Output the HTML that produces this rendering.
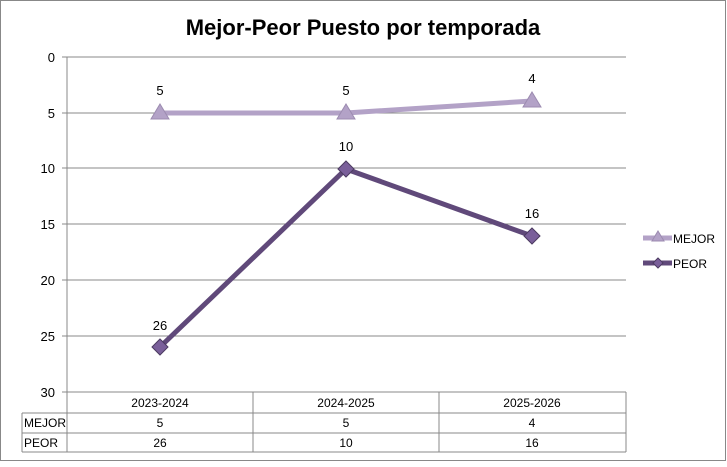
<!DOCTYPE html>
<html><head><meta charset="utf-8"><style>
body{margin:0;background:#fff}
svg text{font-family:"Liberation Sans",sans-serif}
</style></head><body>
<svg width="727" height="462" xmlns="http://www.w3.org/2000/svg">
<rect x="0.5" y="0.5" width="725" height="460" fill="#fff" stroke="#888"/>
<text x="363" y="35" text-anchor="middle" font-size="22" font-weight="bold" fill="#000">Mejor-Peor Puesto por temporada</text>
<g stroke="#888" stroke-width="1">
<line x1="67" y1="57" x2="67" y2="452"/>
<line x1="62" y1="57" x2="626" y2="57"/>
<line x1="62" y1="113" x2="626" y2="113"/>
<line x1="62" y1="168" x2="626" y2="168"/>
<line x1="62" y1="224" x2="626" y2="224"/>
<line x1="62" y1="280" x2="626" y2="280"/>
<line x1="62" y1="336" x2="626" y2="336"/>
<line x1="62" y1="392" x2="626" y2="392"/>
<line x1="22" y1="413" x2="626" y2="413"/>
<line x1="22" y1="433" x2="626" y2="433"/>
<line x1="22" y1="452" x2="626" y2="452"/>
<line x1="22" y1="413" x2="22" y2="452"/>
<line x1="253" y1="392" x2="253" y2="452"/>
<line x1="439" y1="392" x2="439" y2="452"/>
<line x1="626" y1="392" x2="626" y2="452"/>
</g>
<g font-size="13" fill="#000" text-anchor="end">
<text x="55" y="62">0</text><text x="55" y="118">5</text><text x="55" y="173">10</text>
<text x="55" y="229">15</text><text x="55" y="285">20</text><text x="55" y="341">25</text><text x="55" y="397">30</text>
</g>
<g font-size="12" fill="#000" text-anchor="middle">
<text x="160" y="407">2023-2024</text><text x="346" y="407">2024-2025</text><text x="532" y="407">2025-2026</text>
<text x="160" y="427">5</text><text x="346" y="427">5</text><text x="532" y="427">4</text>
<text x="160" y="447">26</text><text x="346" y="447">10</text><text x="532" y="447">16</text>
<text x="24" y="427" text-anchor="start">MEJOR</text><text x="24" y="447" text-anchor="start">PEOR</text>
</g>
<polyline points="160,113 346,113 532,101" fill="none" stroke="#B3A2C7" stroke-width="5"/>
<g fill="#B3A2C7" stroke="#9C8BB0">
<polygon points="160,104 169,119 151,119"/><polygon points="346,104 355,119 337,119"/><polygon points="532,92 541,107 523,107"/>
</g>
<polyline points="160,347 346,169 532,236" fill="none" stroke="#60497A" stroke-width="5"/>
<g fill="#7A5F9A" stroke="#4B3A60">
<polygon points="160,339 168,347 160,355 152,347"/><polygon points="346,161 354,169 346,177 338,169"/><polygon points="532,228 540,236 532,244 524,236"/>
</g>
<g font-size="13" fill="#000" text-anchor="middle">
<text x="160" y="95">5</text><text x="346" y="95">5</text><text x="532" y="83">4</text>
<text x="346" y="151">10</text><text x="532" y="218">16</text><text x="160" y="330">26</text>
</g>
<line x1="643" y1="238" x2="672" y2="238" stroke="#B3A2C7" stroke-width="5"/>
<polygon points="658,231 664,241 652,241" fill="#B3A2C7" stroke="#9C8BB0"/>
<text x="673" y="243" font-size="12">MEJOR</text>
<line x1="643" y1="263" x2="672" y2="263" stroke="#60497A" stroke-width="5"/>
<polygon points="658,258 663,263 658,268 653,263" fill="#7A5F9A" stroke="#4B3A60"/>
<text x="673" y="268" font-size="12">PEOR</text>
</svg>
</body></html>
